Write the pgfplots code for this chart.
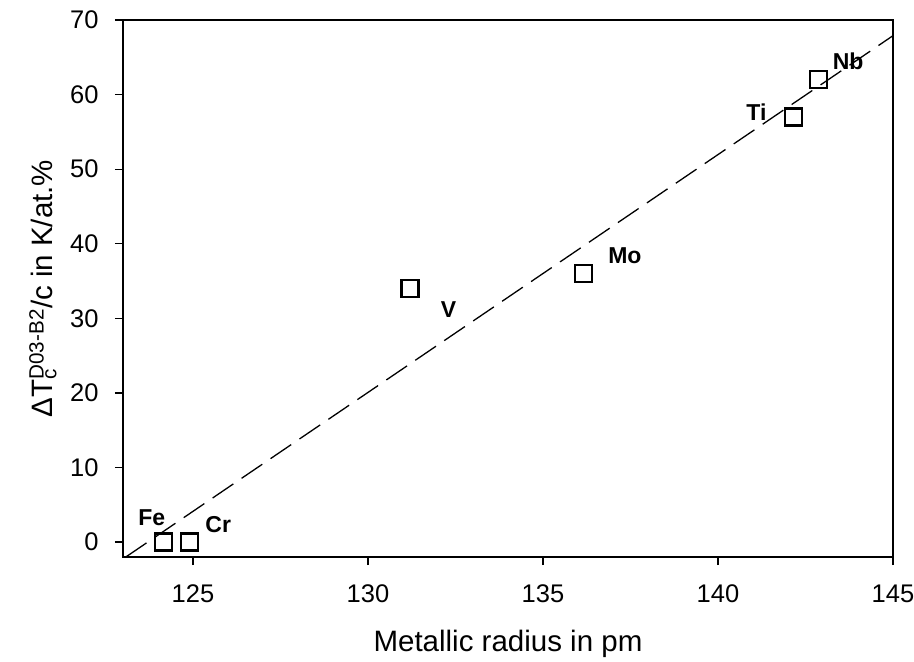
\documentclass[border=0pt]{standalone}
\usepackage{pgfplots}
\pgfplotsset{compat=1.18}
\usepackage{fontspec}
\setmainfont{Liberation Sans}
\begin{document}
\begin{tikzpicture}
\path[use as bounding box] (-123pt,-105pt) rectangle (791pt,557pt);
\begin{axis}[
  at={(0,0)}, anchor=south west,
  scale only axis,
  width=770pt, height=537pt,
  xmin=123, xmax=145, ymin=-2, ymax=70,
  xtick={125,130,135,140,145},
  ytick={0,10,20,30,40,50,60,70},
  tick align=outside,
  xtick pos=bottom, ytick pos=left,
  major tick length=8pt,
  axis line style={line width=1.2pt},
  every tick/.style={black, line width=1.2pt},
  /pgf/number format/assume math mode=true,
  ticklabel style={font=\fontsize{25.5}{29}\selectfont},
  yticklabel style={xshift=-13pt},
  xticklabel style={yshift=-16pt},
  xlabel={Metallic radius in pm},
  ylabel={ΔT\rlap{\textsubscript{c}}\textsuperscript{D03-B2}/c in K/at.\%},
  label style={font=\fontsize{29.5}{33}\selectfont},
  xlabel style={at={(axis description cs:0.5,-0.162)}, anchor=center},
  ylabel style={at={(axis description cs:-0.1039,0.5)}, anchor=center},
  clip=false,
]
\addplot[black, line width=1.3pt, dash pattern=on 25pt off 10pt] coordinates {(123.08,-2) (145,67.9)};
\addplot[only marks, mark=square, mark size=8.5pt, mark options={line width=2.2pt, black, fill=white}] coordinates {
(124.15,0) (124.89,0) (131.2,34) (136.15,36) (142.15,57) (142.87,62)};
\node[font=\fontsize{23}{26}\selectfont\bfseries] at (axis cs:123.82,3.3) {Fe};
\node[font=\fontsize{23}{26}\selectfont\bfseries] at (axis cs:125.72,2.4) {Cr};
\node[font=\fontsize{23}{26}\selectfont\bfseries] at (axis cs:132.3,31.2) {V};
\node[font=\fontsize{23}{26}\selectfont\bfseries] at (axis cs:137.34,38.4) {Mo};
\node[font=\fontsize{23}{26}\selectfont\bfseries] at (axis cs:141.1,57.7) {Ti};
\node[font=\fontsize{23}{26}\selectfont\bfseries] at (axis cs:143.72,64.4) {Nb};
\end{axis}
\end{tikzpicture}
\end{document}
